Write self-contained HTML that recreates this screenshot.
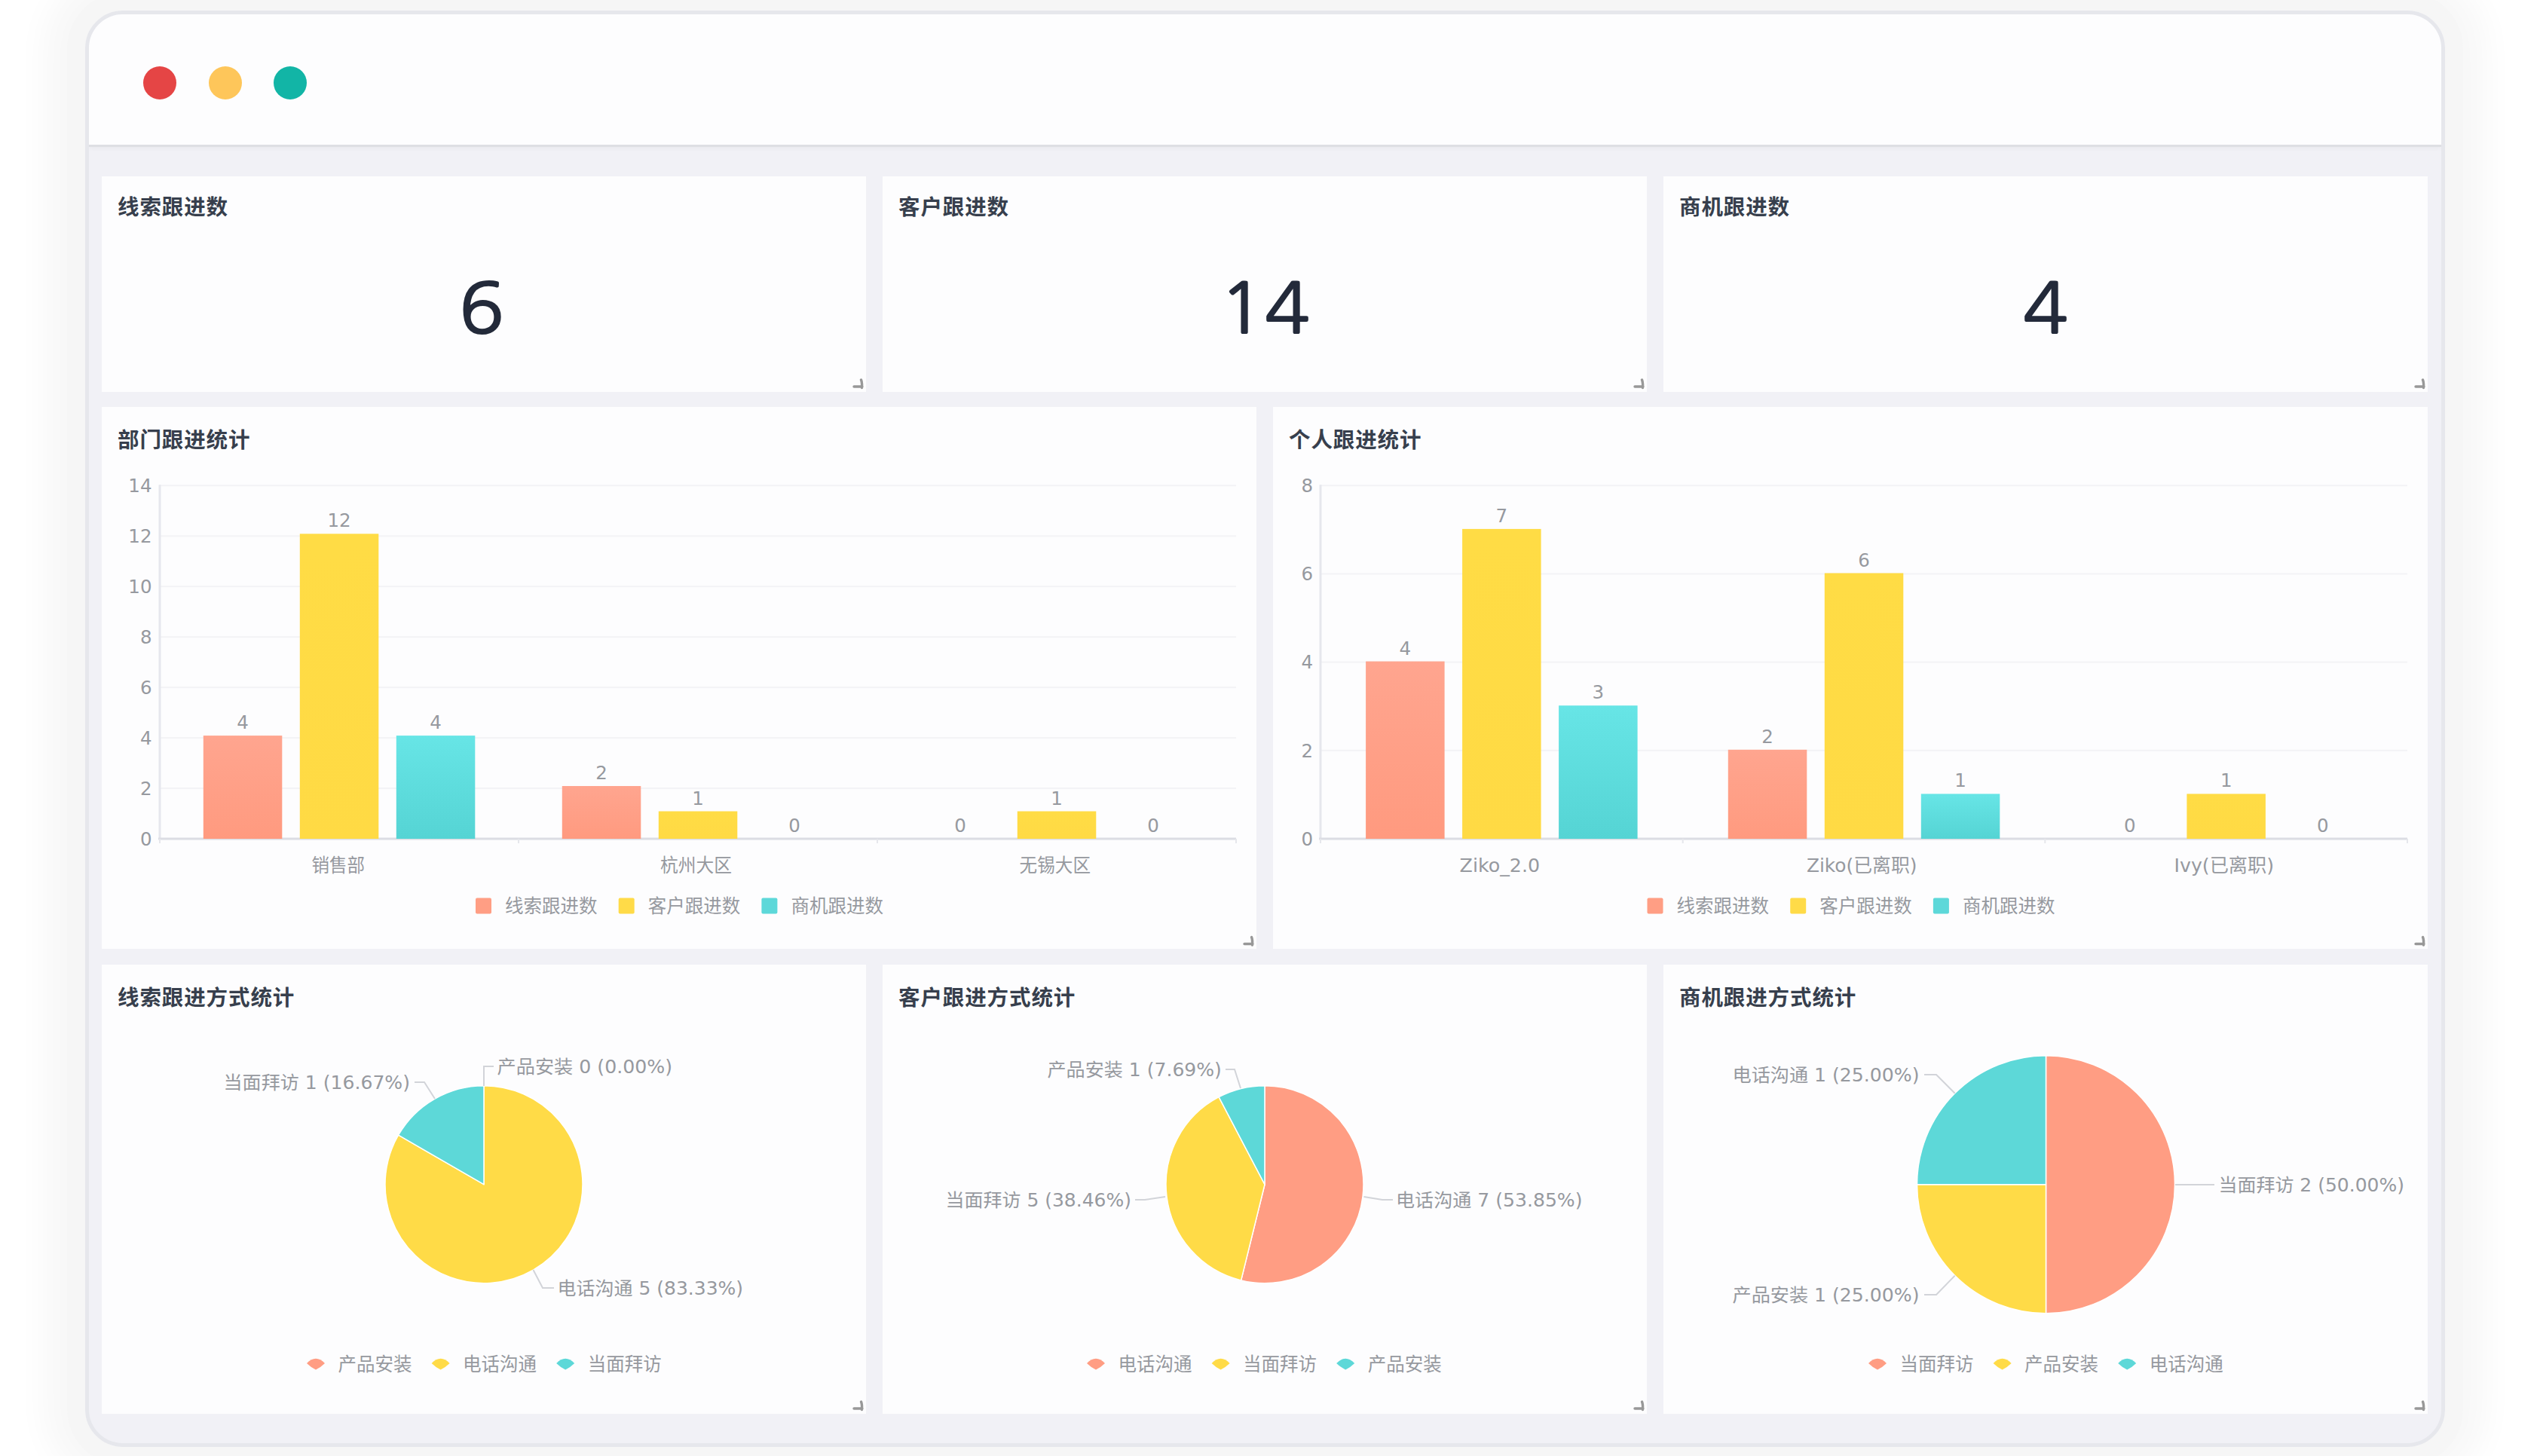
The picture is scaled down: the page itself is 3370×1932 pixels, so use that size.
<!DOCTYPE html>
<html lang="zh-CN"><head><meta charset="utf-8"><title>Dashboard</title>
<style>
html,body{margin:0;padding:0;}
body{width:3370px;height:1932px;position:relative;overflow:hidden;background:#ffffff;
font-family:'Liberation Sans','Noto Sans CJK SC',sans-serif;}
.shadow{position:absolute;left:113px;top:14px;width:3131px;height:1906px;border-radius:50px;
box-shadow:0 0 0 24px #f6f6f6, 0 0 40px 56px rgba(0,0,0,0.03);}
.win{position:absolute;left:113px;top:14px;width:3121px;height:1896px;border:5px solid #e6e7ec;border-radius:50px;
background:#f1f1f6;overflow:hidden;}
.head{position:absolute;left:0;top:0;width:100%;height:173px;background:#fdfdfe;
border-bottom:3px solid #dedfe3;box-shadow:0 2px 6px rgba(0,0,0,0.04);}
.dot{position:absolute;width:44px;height:44px;border-radius:50%;top:69px;}
.card{position:absolute;background:#fdfdfe;}
.title{position:absolute;font-family:'Noto Sans CJK SC',sans-serif;font-weight:700;font-size:28.5px;line-height:40px;letter-spacing:0.9px;
color:#373f4d;white-space:nowrap;}
.num{position:absolute;width:400px;text-align:center;font-family:'NanumGothic','Liberation Sans',sans-serif;font-size:91.5px;
line-height:120px;color:#232a3a;-webkit-text-stroke:2.2px #232a3a;transform:scaleX(1.08);}
svg{position:absolute;left:0;top:0;}
</style></head><body>
<div class="shadow"></div>
<div class="win">
<div class="head">
<div class="dot" style="left:72px;background:#e54545"></div>
<div class="dot" style="left:159px;background:#fec65a"></div>
<div class="dot" style="left:245px;background:#12b5a6"></div>
</div>
</div>
<div class="card" style="left:135px;top:234px;width:1014px;height:285.5px"></div>
<div class="card" style="left:1171px;top:234px;width:1014px;height:285.5px"></div>
<div class="card" style="left:2207px;top:234px;width:1014px;height:285.5px"></div>
<div class="card" style="left:135px;top:540px;width:1532px;height:719px"></div>
<div class="card" style="left:1689px;top:540px;width:1532px;height:719px"></div>
<div class="card" style="left:135px;top:1280px;width:1014px;height:595.5px"></div>
<div class="card" style="left:1171px;top:1280px;width:1014px;height:595.5px"></div>
<div class="card" style="left:2207px;top:1280px;width:1014px;height:595.5px"></div>
<div class="title" style="left:156px;top:253.0px">线索跟进数</div>
<div class="title" style="left:1192px;top:253.0px">客户跟进数</div>
<div class="title" style="left:2228px;top:253.0px">商机跟进数</div>
<div class="title" style="left:156px;top:561.5px">部门跟进统计</div>
<div class="title" style="left:1710px;top:561.5px">个人跟进统计</div>
<div class="title" style="left:156px;top:1301.5px">线索跟进方式统计</div>
<div class="title" style="left:1192px;top:1301.5px">客户跟进方式统计</div>
<div class="title" style="left:2228px;top:1301.5px">商机跟进方式统计</div>
<div class="num" style="left:439px;top:350px">6</div>
<div class="num" style="left:1478px;top:350px">14</div>
<div class="num" style="left:2514px;top:350px">4</div>
<svg width="3370" height="1932" viewBox="0 0 3370 1932">
<defs>
<linearGradient id="gs" x1="0" y1="0" x2="0" y2="1"><stop offset="0" stop-color="#ffa58f"/><stop offset="1" stop-color="#ff9a7f"/></linearGradient>
<linearGradient id="gy" x1="0" y1="0" x2="0" y2="1"><stop offset="0" stop-color="#ffdc45"/><stop offset="1" stop-color="#ffda44"/></linearGradient>
<linearGradient id="gc" x1="0" y1="0" x2="0" y2="1"><stop offset="0" stop-color="#67e5e6"/><stop offset="1" stop-color="#55d4d4"/></linearGradient>
</defs>
<path d="M1142.5 504.0 Q1144.0 507.5 1143.5 514.5 M1133.0 513.0 H1144.0" stroke="rgba(0,0,0,0.4)" stroke-width="3.4" fill="none" stroke-linecap="round"/>
<path d="M2178.5 504.0 Q2180.0 507.5 2179.5 514.5 M2169.0 513.0 H2180.0" stroke="rgba(0,0,0,0.4)" stroke-width="3.4" fill="none" stroke-linecap="round"/>
<path d="M3214.5 504.0 Q3216.0 507.5 3215.5 514.5 M3205.0 513.0 H3216.0" stroke="rgba(0,0,0,0.4)" stroke-width="3.4" fill="none" stroke-linecap="round"/>
<path d="M1660.5 1243.5 Q1662.0 1247.0 1661.5 1254.0 M1651.0 1252.5 H1662.0" stroke="rgba(0,0,0,0.4)" stroke-width="3.4" fill="none" stroke-linecap="round"/>
<path d="M3214.5 1243.5 Q3216.0 1247.0 3215.5 1254.0 M3205.0 1252.5 H3216.0" stroke="rgba(0,0,0,0.4)" stroke-width="3.4" fill="none" stroke-linecap="round"/>
<path d="M1142.5 1860.0 Q1144.0 1863.5 1143.5 1870.5 M1133.0 1869.0 H1144.0" stroke="rgba(0,0,0,0.4)" stroke-width="3.4" fill="none" stroke-linecap="round"/>
<path d="M2178.5 1860.0 Q2180.0 1863.5 2179.5 1870.5 M2169.0 1869.0 H2180.0" stroke="rgba(0,0,0,0.4)" stroke-width="3.4" fill="none" stroke-linecap="round"/>
<path d="M3214.5 1860.0 Q3216.0 1863.5 3215.5 1870.5 M3205.0 1869.0 H3216.0" stroke="rgba(0,0,0,0.4)" stroke-width="3.4" fill="none" stroke-linecap="round"/>
<rect x="212" y="1045.0" width="1428" height="2" fill="#f3f3f6"/>
<rect x="212" y="978.1" width="1428" height="2" fill="#f3f3f6"/>
<rect x="212" y="911.1" width="1428" height="2" fill="#f3f3f6"/>
<rect x="212" y="844.2" width="1428" height="2" fill="#f3f3f6"/>
<rect x="212" y="777.2" width="1428" height="2" fill="#f3f3f6"/>
<rect x="212" y="710.3" width="1428" height="2" fill="#f3f3f6"/>
<rect x="212" y="643.3" width="1428" height="2" fill="#f3f3f6"/>
<rect x="210.5" y="643.3" width="3" height="469.7" fill="#e6e7ed"/>
<rect x="210" y="1111.5" width="1430" height="3" fill="#dcdde3"/>
<rect x="211.0" y="1113" width="2" height="6" fill="#e6e7ec"/>
<rect x="687.0" y="1113" width="2" height="6" fill="#e6e7ec"/>
<rect x="1163.0" y="1113" width="2" height="6" fill="#e6e7ec"/>
<rect x="1639.0" y="1113" width="2" height="6" fill="#e6e7ec"/>
<text x="201.5" y="1121.7" font-size="24.5" text-anchor="end" fill="#96999f" font-family="'DejaVu Sans', 'Noto Sans CJK SC', sans-serif" font-weight="normal" >0</text>
<text x="201.5" y="1054.7" font-size="24.5" text-anchor="end" fill="#96999f" font-family="'DejaVu Sans', 'Noto Sans CJK SC', sans-serif" font-weight="normal" >2</text>
<text x="201.5" y="987.8" font-size="24.5" text-anchor="end" fill="#96999f" font-family="'DejaVu Sans', 'Noto Sans CJK SC', sans-serif" font-weight="normal" >4</text>
<text x="201.5" y="920.8" font-size="24.5" text-anchor="end" fill="#96999f" font-family="'DejaVu Sans', 'Noto Sans CJK SC', sans-serif" font-weight="normal" >6</text>
<text x="201.5" y="853.9" font-size="24.5" text-anchor="end" fill="#96999f" font-family="'DejaVu Sans', 'Noto Sans CJK SC', sans-serif" font-weight="normal" >8</text>
<text x="201.5" y="786.9" font-size="24.5" text-anchor="end" fill="#96999f" font-family="'DejaVu Sans', 'Noto Sans CJK SC', sans-serif" font-weight="normal" >10</text>
<text x="201.5" y="720.0" font-size="24.5" text-anchor="end" fill="#96999f" font-family="'DejaVu Sans', 'Noto Sans CJK SC', sans-serif" font-weight="normal" >12</text>
<text x="201.5" y="653.0" font-size="24.5" text-anchor="end" fill="#96999f" font-family="'DejaVu Sans', 'Noto Sans CJK SC', sans-serif" font-weight="normal" >14</text>
<text x="448.8" y="1156.5" font-size="24.5" text-anchor="middle" fill="#96999f" font-family="'DejaVu Sans', 'Noto Sans CJK SC', sans-serif" font-weight="normal"  textLength="70.5" lengthAdjust="spacingAndGlyphs">销售部</text>
<rect x="269.8" y="976.1" width="104.5" height="136.9" fill="url(#gs)"/>
<text x="322.0" y="967.1" font-size="24.5" text-anchor="middle" fill="#96999f" font-family="'DejaVu Sans', 'Noto Sans CJK SC', sans-serif" font-weight="normal" >4</text>
<rect x="397.8" y="708.3" width="104.5" height="404.7" fill="url(#gy)"/>
<text x="450.0" y="699.3" font-size="24.5" text-anchor="middle" fill="#96999f" font-family="'DejaVu Sans', 'Noto Sans CJK SC', sans-serif" font-weight="normal" >12</text>
<rect x="525.8" y="976.1" width="104.5" height="136.9" fill="url(#gc)"/>
<text x="578.0" y="967.1" font-size="24.5" text-anchor="middle" fill="#96999f" font-family="'DejaVu Sans', 'Noto Sans CJK SC', sans-serif" font-weight="normal" >4</text>
<text x="923.5" y="1156.5" font-size="24.5" text-anchor="middle" fill="#96999f" font-family="'DejaVu Sans', 'Noto Sans CJK SC', sans-serif" font-weight="normal"  textLength="95.0" lengthAdjust="spacingAndGlyphs">杭州大区</text>
<rect x="745.8" y="1043.0" width="104.5" height="70.0" fill="url(#gs)"/>
<text x="798.0" y="1034.0" font-size="24.5" text-anchor="middle" fill="#96999f" font-family="'DejaVu Sans', 'Noto Sans CJK SC', sans-serif" font-weight="normal" >2</text>
<rect x="873.8" y="1076.5" width="104.5" height="36.5" fill="url(#gy)"/>
<text x="926.0" y="1067.5" font-size="24.5" text-anchor="middle" fill="#96999f" font-family="'DejaVu Sans', 'Noto Sans CJK SC', sans-serif" font-weight="normal" >1</text>
<text x="1054.0" y="1104.0" font-size="24.5" text-anchor="middle" fill="#96999f" font-family="'DejaVu Sans', 'Noto Sans CJK SC', sans-serif" font-weight="normal" >0</text>
<text x="1399.8" y="1156.5" font-size="24.5" text-anchor="middle" fill="#96999f" font-family="'DejaVu Sans', 'Noto Sans CJK SC', sans-serif" font-weight="normal"  textLength="94.5" lengthAdjust="spacingAndGlyphs">无锡大区</text>
<text x="1274.0" y="1104.0" font-size="24.5" text-anchor="middle" fill="#96999f" font-family="'DejaVu Sans', 'Noto Sans CJK SC', sans-serif" font-weight="normal" >0</text>
<rect x="1349.8" y="1076.5" width="104.5" height="36.5" fill="url(#gy)"/>
<text x="1402.0" y="1067.5" font-size="24.5" text-anchor="middle" fill="#96999f" font-family="'DejaVu Sans', 'Noto Sans CJK SC', sans-serif" font-weight="normal" >1</text>
<text x="1530.0" y="1104.0" font-size="24.5" text-anchor="middle" fill="#96999f" font-family="'DejaVu Sans', 'Noto Sans CJK SC', sans-serif" font-weight="normal" >0</text>
<rect x="1752" y="994.8" width="1442" height="2" fill="#f3f3f6"/>
<rect x="1752" y="877.6" width="1442" height="2" fill="#f3f3f6"/>
<rect x="1752" y="760.5" width="1442" height="2" fill="#f3f3f6"/>
<rect x="1752" y="643.3" width="1442" height="2" fill="#f3f3f6"/>
<rect x="1750.5" y="643.3" width="3" height="469.7" fill="#e6e7ed"/>
<rect x="1750" y="1111.5" width="1444" height="3" fill="#dcdde3"/>
<rect x="1751.0" y="1113" width="2" height="6" fill="#e6e7ec"/>
<rect x="2231.7" y="1113" width="2" height="6" fill="#e6e7ec"/>
<rect x="2712.3" y="1113" width="2" height="6" fill="#e6e7ec"/>
<rect x="3193.0" y="1113" width="2" height="6" fill="#e6e7ec"/>
<text x="1742.0" y="1121.7" font-size="24.5" text-anchor="end" fill="#96999f" font-family="'DejaVu Sans', 'Noto Sans CJK SC', sans-serif" font-weight="normal" >0</text>
<text x="1742.0" y="1004.5" font-size="24.5" text-anchor="end" fill="#96999f" font-family="'DejaVu Sans', 'Noto Sans CJK SC', sans-serif" font-weight="normal" >2</text>
<text x="1742.0" y="887.4" font-size="24.5" text-anchor="end" fill="#96999f" font-family="'DejaVu Sans', 'Noto Sans CJK SC', sans-serif" font-weight="normal" >4</text>
<text x="1742.0" y="770.2" font-size="24.5" text-anchor="end" fill="#96999f" font-family="'DejaVu Sans', 'Noto Sans CJK SC', sans-serif" font-weight="normal" >6</text>
<text x="1742.0" y="653.0" font-size="24.5" text-anchor="end" fill="#96999f" font-family="'DejaVu Sans', 'Noto Sans CJK SC', sans-serif" font-weight="normal" >8</text>
<text x="1989.8" y="1156.5" font-size="24.5" text-anchor="middle" fill="#96999f" font-family="'DejaVu Sans', 'Noto Sans CJK SC', sans-serif" font-weight="normal"  textLength="106.5" lengthAdjust="spacingAndGlyphs">Ziko_2.0</text>
<rect x="1812.1" y="877.6" width="104.5" height="235.4" fill="url(#gs)"/>
<text x="1864.3" y="868.6" font-size="24.5" text-anchor="middle" fill="#96999f" font-family="'DejaVu Sans', 'Noto Sans CJK SC', sans-serif" font-weight="normal" >4</text>
<rect x="1940.1" y="701.9" width="104.5" height="411.1" fill="url(#gy)"/>
<text x="1992.3" y="692.9" font-size="24.5" text-anchor="middle" fill="#96999f" font-family="'DejaVu Sans', 'Noto Sans CJK SC', sans-serif" font-weight="normal" >7</text>
<rect x="2068.1" y="936.2" width="104.5" height="176.8" fill="url(#gc)"/>
<text x="2120.3" y="927.2" font-size="24.5" text-anchor="middle" fill="#96999f" font-family="'DejaVu Sans', 'Noto Sans CJK SC', sans-serif" font-weight="normal" >3</text>
<text x="2470.2" y="1156.5" font-size="24.5" text-anchor="middle" fill="#96999f" font-family="'DejaVu Sans', 'Noto Sans CJK SC', sans-serif" font-weight="normal"  textLength="146.5" lengthAdjust="spacingAndGlyphs">Ziko(已离职)</text>
<rect x="2292.8" y="994.8" width="104.5" height="118.2" fill="url(#gs)"/>
<text x="2345.0" y="985.8" font-size="24.5" text-anchor="middle" fill="#96999f" font-family="'DejaVu Sans', 'Noto Sans CJK SC', sans-serif" font-weight="normal" >2</text>
<rect x="2420.8" y="760.5" width="104.5" height="352.5" fill="url(#gy)"/>
<text x="2473.0" y="751.5" font-size="24.5" text-anchor="middle" fill="#96999f" font-family="'DejaVu Sans', 'Noto Sans CJK SC', sans-serif" font-weight="normal" >6</text>
<rect x="2548.8" y="1053.4" width="104.5" height="59.6" fill="url(#gc)"/>
<text x="2601.0" y="1044.4" font-size="24.5" text-anchor="middle" fill="#96999f" font-family="'DejaVu Sans', 'Noto Sans CJK SC', sans-serif" font-weight="normal" >1</text>
<text x="2950.8" y="1156.5" font-size="24.5" text-anchor="middle" fill="#96999f" font-family="'DejaVu Sans', 'Noto Sans CJK SC', sans-serif" font-weight="normal"  textLength="132.5" lengthAdjust="spacingAndGlyphs">Ivy(已离职)</text>
<text x="2825.7" y="1104.0" font-size="24.5" text-anchor="middle" fill="#96999f" font-family="'DejaVu Sans', 'Noto Sans CJK SC', sans-serif" font-weight="normal" >0</text>
<rect x="2901.4" y="1053.4" width="104.5" height="59.6" fill="url(#gy)"/>
<text x="2953.7" y="1044.4" font-size="24.5" text-anchor="middle" fill="#96999f" font-family="'DejaVu Sans', 'Noto Sans CJK SC', sans-serif" font-weight="normal" >1</text>
<text x="3081.7" y="1104.0" font-size="24.5" text-anchor="middle" fill="#96999f" font-family="'DejaVu Sans', 'Noto Sans CJK SC', sans-serif" font-weight="normal" >0</text>
<rect x="631.0" y="1191.5" width="21" height="21" rx="2" fill="#ff9e84"/>
<text x="670.0" y="1210.7" font-size="24.5" text-anchor="start" fill="#96999f" font-family="'Noto Sans CJK SC', sans-serif" font-weight="normal" >线索跟进数</text>
<rect x="820.7" y="1191.5" width="21" height="21" rx="2" fill="#ffdb48"/>
<text x="859.7" y="1210.7" font-size="24.5" text-anchor="start" fill="#96999f" font-family="'Noto Sans CJK SC', sans-serif" font-weight="normal" >客户跟进数</text>
<rect x="1010.4" y="1191.5" width="21" height="21" rx="2" fill="#5dd8d9"/>
<text x="1049.4" y="1210.7" font-size="24.5" text-anchor="start" fill="#96999f" font-family="'Noto Sans CJK SC', sans-serif" font-weight="normal" >商机跟进数</text>
<rect x="2185.5" y="1191.5" width="21" height="21" rx="2" fill="#ff9e84"/>
<text x="2224.5" y="1210.7" font-size="24.5" text-anchor="start" fill="#96999f" font-family="'Noto Sans CJK SC', sans-serif" font-weight="normal" >线索跟进数</text>
<rect x="2375.2" y="1191.5" width="21" height="21" rx="2" fill="#ffdb48"/>
<text x="2414.2" y="1210.7" font-size="24.5" text-anchor="start" fill="#96999f" font-family="'Noto Sans CJK SC', sans-serif" font-weight="normal" >客户跟进数</text>
<rect x="2564.9" y="1191.5" width="21" height="21" rx="2" fill="#5dd8d9"/>
<text x="2603.9" y="1210.7" font-size="24.5" text-anchor="start" fill="#96999f" font-family="'Noto Sans CJK SC', sans-serif" font-weight="normal" >商机跟进数</text>
<path d="M642.00 1571.70 L642.00 1440.70 A131 131 0 1 1 528.55 1506.20 Z" fill="#ffdb47" stroke="#fff" stroke-width="1.5" stroke-linejoin="round"/>
<path d="M642.00 1571.70 L528.55 1506.20 A131 131 0 0 1 642.00 1440.70 Z" fill="#5dd8d8" stroke="#fff" stroke-width="1.5" stroke-linejoin="round"/>
<path d="M642.0 1441.0 L642.0 1415.0 L655.0 1415.0" stroke="#d2d4d9" stroke-width="2" fill="none"/>
<text x="659.5" y="1423.5" font-size="24" text-anchor="start" fill="#96999f" font-family="'DejaVu Sans', 'Noto Sans CJK SC', sans-serif" font-weight="normal"  textLength="232.5" lengthAdjust="spacingAndGlyphs">产品安装 0 (0.00%)</text>
<path d="M577.0 1458.0 L563.0 1436.0 L550.0 1436.0" stroke="#d2d4d9" stroke-width="2" fill="none"/>
<text x="296.5" y="1444.5" font-size="24" text-anchor="start" fill="#96999f" font-family="'DejaVu Sans', 'Noto Sans CJK SC', sans-serif" font-weight="normal"  textLength="247.5" lengthAdjust="spacingAndGlyphs">当面拜访 1 (16.67%)</text>
<path d="M707.5 1685.0 L720.0 1709.0 L735.0 1709.0" stroke="#d2d4d9" stroke-width="2" fill="none"/>
<text x="739.5" y="1717.5" font-size="24" text-anchor="start" fill="#96999f" font-family="'DejaVu Sans', 'Noto Sans CJK SC', sans-serif" font-weight="normal"  textLength="246.6" lengthAdjust="spacingAndGlyphs">电话沟通 5 (83.33%)</text>
<path d="M407.0 1809.0 Q419.0 1796.5 431.0 1809.0 Q426.0 1814.0 419.0 1817.5 Q412.0 1814.0 407.0 1809.0 Z" fill="#ff9d83"/>
<text x="448.5" y="1818.7" font-size="24.5" text-anchor="start" fill="#96999f" font-family="'Noto Sans CJK SC', sans-serif" font-weight="normal" >产品安装</text>
<path d="M572.6 1809.0 Q584.6 1796.5 596.6 1809.0 Q591.6 1814.0 584.6 1817.5 Q577.6 1814.0 572.6 1809.0 Z" fill="#ffdb47"/>
<text x="614.1" y="1818.7" font-size="24.5" text-anchor="start" fill="#96999f" font-family="'Noto Sans CJK SC', sans-serif" font-weight="normal" >电话沟通</text>
<path d="M738.2 1809.0 Q750.2 1796.5 762.2 1809.0 Q757.2 1814.0 750.2 1817.5 Q743.2 1814.0 738.2 1809.0 Z" fill="#5dd8d8"/>
<text x="779.7" y="1818.7" font-size="24.5" text-anchor="start" fill="#96999f" font-family="'Noto Sans CJK SC', sans-serif" font-weight="normal" >当面拜访</text>
<path d="M1678.00 1571.70 L1678.00 1440.70 A131 131 0 1 1 1646.65 1698.89 Z" fill="#ff9d83" stroke="#fff" stroke-width="1.5" stroke-linejoin="round"/>
<path d="M1678.00 1571.70 L1646.65 1698.89 A131 131 0 0 1 1617.12 1455.71 Z" fill="#ffdb47" stroke="#fff" stroke-width="1.5" stroke-linejoin="round"/>
<path d="M1678.00 1571.70 L1617.12 1455.71 A131 131 0 0 1 1678.00 1440.70 Z" fill="#5dd8d8" stroke="#fff" stroke-width="1.5" stroke-linejoin="round"/>
<path d="M1646.0 1444.0 L1638.0 1419.0 L1626.0 1419.0" stroke="#d2d4d9" stroke-width="2" fill="none"/>
<text x="1389.5" y="1427.5" font-size="24" text-anchor="start" fill="#96999f" font-family="'DejaVu Sans', 'Noto Sans CJK SC', sans-serif" font-weight="normal"  textLength="231.4" lengthAdjust="spacingAndGlyphs">产品安装 1 (7.69%)</text>
<path d="M1546.0 1588.0 L1519.0 1592.0 L1506.0 1592.0" stroke="#d2d4d9" stroke-width="2" fill="none"/>
<text x="1254.5" y="1600.5" font-size="24" text-anchor="start" fill="#96999f" font-family="'DejaVu Sans', 'Noto Sans CJK SC', sans-serif" font-weight="normal"  textLength="246.5" lengthAdjust="spacingAndGlyphs">当面拜访 5 (38.46%)</text>
<path d="M1809.5 1588.0 L1834.0 1592.0 L1848.0 1592.0" stroke="#d2d4d9" stroke-width="2" fill="none"/>
<text x="1852.0" y="1600.5" font-size="24" text-anchor="start" fill="#96999f" font-family="'DejaVu Sans', 'Noto Sans CJK SC', sans-serif" font-weight="normal"  textLength="247.5" lengthAdjust="spacingAndGlyphs">电话沟通 7 (53.85%)</text>
<path d="M1442.0 1809.0 Q1454.0 1796.5 1466.0 1809.0 Q1461.0 1814.0 1454.0 1817.5 Q1447.0 1814.0 1442.0 1809.0 Z" fill="#ff9d83"/>
<text x="1483.5" y="1818.7" font-size="24.5" text-anchor="start" fill="#96999f" font-family="'Noto Sans CJK SC', sans-serif" font-weight="normal" >电话沟通</text>
<path d="M1607.6 1809.0 Q1619.6 1796.5 1631.6 1809.0 Q1626.6 1814.0 1619.6 1817.5 Q1612.6 1814.0 1607.6 1809.0 Z" fill="#ffdb47"/>
<text x="1649.1" y="1818.7" font-size="24.5" text-anchor="start" fill="#96999f" font-family="'Noto Sans CJK SC', sans-serif" font-weight="normal" >当面拜访</text>
<path d="M1773.2 1809.0 Q1785.2 1796.5 1797.2 1809.0 Q1792.2 1814.0 1785.2 1817.5 Q1778.2 1814.0 1773.2 1809.0 Z" fill="#5dd8d8"/>
<text x="1814.7" y="1818.7" font-size="24.5" text-anchor="start" fill="#96999f" font-family="'Noto Sans CJK SC', sans-serif" font-weight="normal" >产品安装</text>
<path d="M2714.50 1571.70 L2714.50 1400.70 A171 171 0 0 1 2714.50 1742.70 Z" fill="#ff9d83" stroke="#fff" stroke-width="1.5" stroke-linejoin="round"/>
<path d="M2714.50 1571.70 L2714.50 1742.70 A171 171 0 0 1 2543.50 1571.70 Z" fill="#ffdb47" stroke="#fff" stroke-width="1.5" stroke-linejoin="round"/>
<path d="M2714.50 1571.70 L2543.50 1571.70 A171 171 0 0 1 2714.50 1400.70 Z" fill="#5dd8d8" stroke="#fff" stroke-width="1.5" stroke-linejoin="round"/>
<path d="M2593.7 1450.8 L2569.0 1426.0 L2553.0 1426.0" stroke="#d2d4d9" stroke-width="2" fill="none"/>
<text x="2298.5" y="1434.5" font-size="24" text-anchor="start" fill="#96999f" font-family="'DejaVu Sans', 'Noto Sans CJK SC', sans-serif" font-weight="normal"  textLength="248.0" lengthAdjust="spacingAndGlyphs">电话沟通 1 (25.00%)</text>
<path d="M2886.0 1572.0 L2938.0 1572.0" stroke="#d2d4d9" stroke-width="2" fill="none"/>
<text x="2943.5" y="1580.5" font-size="24" text-anchor="start" fill="#96999f" font-family="'DejaVu Sans', 'Noto Sans CJK SC', sans-serif" font-weight="normal"  textLength="246.4" lengthAdjust="spacingAndGlyphs">当面拜访 2 (50.00%)</text>
<path d="M2593.7 1692.6 L2569.0 1718.0 L2553.0 1718.0" stroke="#d2d4d9" stroke-width="2" fill="none"/>
<text x="2298.5" y="1726.5" font-size="24" text-anchor="start" fill="#96999f" font-family="'DejaVu Sans', 'Noto Sans CJK SC', sans-serif" font-weight="normal"  textLength="248.0" lengthAdjust="spacingAndGlyphs">产品安装 1 (25.00%)</text>
<path d="M2479.0 1809.0 Q2491.0 1796.5 2503.0 1809.0 Q2498.0 1814.0 2491.0 1817.5 Q2484.0 1814.0 2479.0 1809.0 Z" fill="#ff9d83"/>
<text x="2520.5" y="1818.7" font-size="24.5" text-anchor="start" fill="#96999f" font-family="'Noto Sans CJK SC', sans-serif" font-weight="normal" >当面拜访</text>
<path d="M2644.6 1809.0 Q2656.6 1796.5 2668.6 1809.0 Q2663.6 1814.0 2656.6 1817.5 Q2649.6 1814.0 2644.6 1809.0 Z" fill="#ffdb47"/>
<text x="2686.1" y="1818.7" font-size="24.5" text-anchor="start" fill="#96999f" font-family="'Noto Sans CJK SC', sans-serif" font-weight="normal" >产品安装</text>
<path d="M2810.2 1809.0 Q2822.2 1796.5 2834.2 1809.0 Q2829.2 1814.0 2822.2 1817.5 Q2815.2 1814.0 2810.2 1809.0 Z" fill="#5dd8d8"/>
<text x="2851.7" y="1818.7" font-size="24.5" text-anchor="start" fill="#96999f" font-family="'Noto Sans CJK SC', sans-serif" font-weight="normal" >电话沟通</text>
</svg>
</body></html>
